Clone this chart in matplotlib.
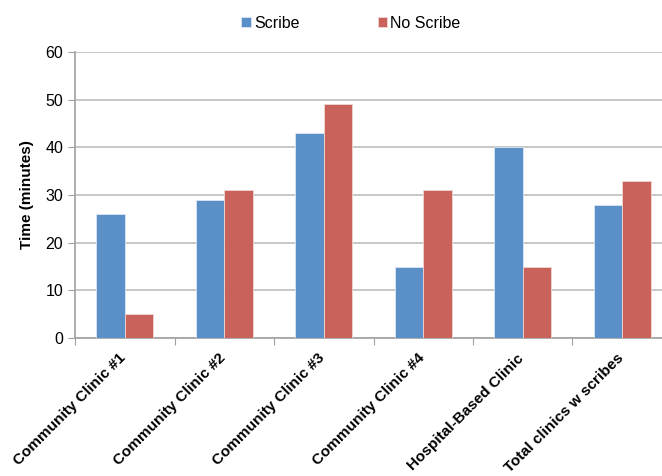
import matplotlib.pyplot as plt
import matplotlib.transforms as mtransforms
import numpy as np

plt.rcParams['font.family'] = ['Liberation Sans', 'DejaVu Sans']

clinics = ['Community Clinic #1', 'Community Clinic #2', 'Community Clinic #3',
           'Community Clinic #4', 'Hospital-Based Clinic', 'Total clinics w scribes']
scribe = [26, 29, 43, 15, 40, 28]
no_scribe = [5, 31, 49, 31, 15, 33]

fig = plt.figure(figsize=(6.62, 4.76), dpi=100)
ax = fig.add_axes([0.1133, 0.2899, 0.9018, 0.6008])

x = np.arange(len(clinics))
w = 0.287
b1 = ax.bar(x - w/2, scribe, w, color='#5B8FC8', edgecolor='#dbe6f3', linewidth=0.6, label='Scribe', zorder=3)
b2 = ax.bar(x + w/2, no_scribe, w, color='#C9625A', edgecolor='#f0d6d3', linewidth=0.6, label='No Scribe', zorder=3)

ax.set_xlim(-0.5, len(clinics) - 0.5)
ax.set_ylim(0, 60)
ax.set_yticks(range(0, 61, 10))
ax.yaxis.grid(True, color='#bdbdbd', linewidth=1.2, zorder=0)
ax.set_axisbelow(True)

# category boundaries as major ticks, names on minor ticks at centres
ax.set_xticks(np.arange(len(clinics) + 1) - 0.5)
ax.set_xticklabels([])
ax.set_xticks(x, minor=True)
ax.set_xticklabels(clinics, minor=True, rotation=45, ha='right', rotation_mode='anchor',
                   fontsize=11, fontweight='bold')
ax.tick_params(axis='x', which='minor', length=0, pad=9.5)
ax.tick_params(axis='x', which='major', length=5, color='#a0a0a0', direction='out')
ax.tick_params(axis='y', length=5, color='#a0a0a0', labelsize=11.5)
shift = mtransforms.ScaledTranslation(-0.06, 0, fig.dpi_scale_trans)
for lbl in ax.get_xticklabels(minor=True):
    lbl.set_transform(lbl.get_transform() + shift)

for s in ['top', 'right']:
    ax.spines[s].set_visible(False)
ax.spines['left'].set_color('#a0a0a0')
ax.spines['bottom'].set_color('#a0a0a0')
ax.spines['left'].set_linewidth(1.2)
ax.spines['bottom'].set_linewidth(1.2)

ax.set_ylabel('Time (minutes)', fontsize=11, fontweight='bold', labelpad=8)

fig.legend(handles=[b1, b2], loc='center', bbox_to_anchor=(0.53, 0.951), ncol=2,
           frameon=False, fontsize=11.5, handlelength=0.6, handleheight=0.6,
           handletextpad=0.2, columnspacing=4.9)

fig.savefig('out.png', dpi=100)
